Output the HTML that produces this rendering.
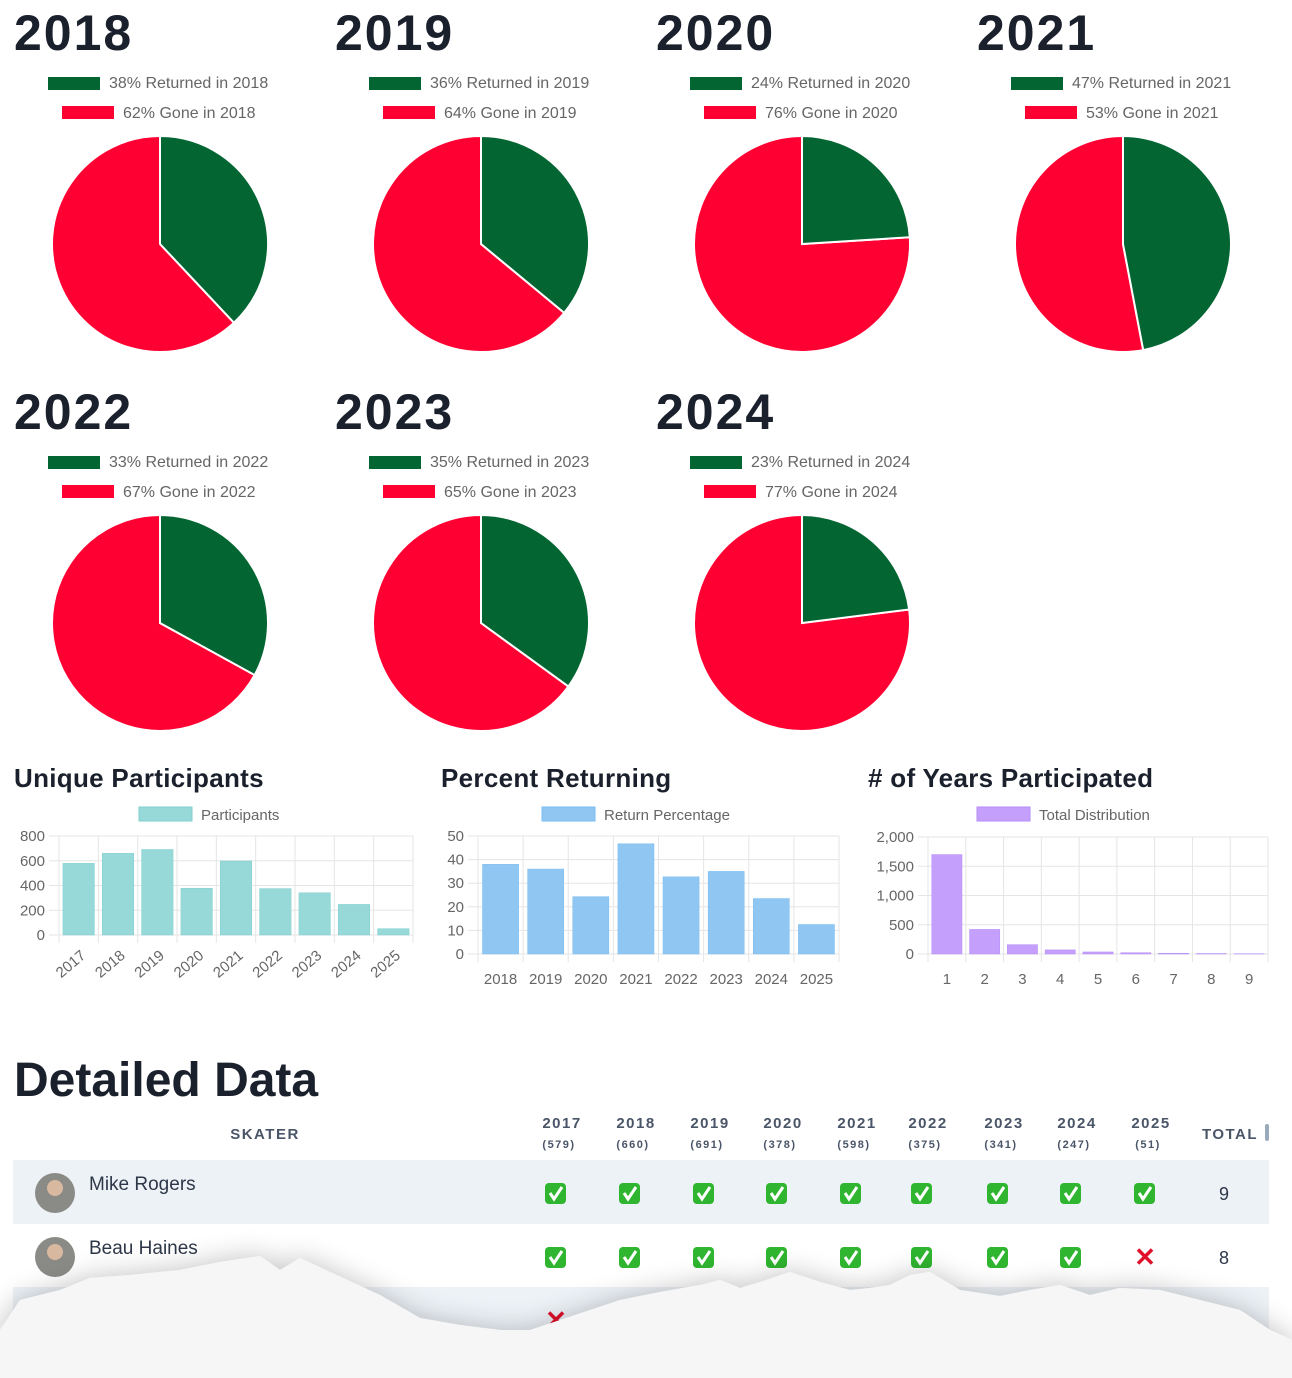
<!DOCTYPE html>
<html><head><meta charset="utf-8">
<style>
html,body{margin:0;padding:0;background:#fff;width:1292px;height:1378px;overflow:hidden;}
svg{display:block;font-family:"Liberation Sans",sans-serif;}
</style></head>
<body>
<svg id="root" width="1292" height="1378" viewBox="0 0 1292 1378" xmlns="http://www.w3.org/2000/svg">
<g id="pies"></g>
<g id="bars"></g>
<g id="table"></g>
<g id="paper"></g>
</svg>
<script>
const NS="http://www.w3.org/2000/svg";
const pieYears=["2018","2019","2020","2021","2022","2023","2024"];
const pieReturned=[38,36,24,47,33,35,23];
const participantYears=["2017","2018","2019","2020","2021","2022","2023","2024","2025"];
const participantValues=[579,660,691,378,598,375,341,247,51];
const participantTicks=[0,200,400,600,800];
const returnYears=["2018","2019","2020","2021","2022","2023","2024","2025"];
const returnValues=[38,36,24.3,46.7,32.7,35,23.5,12.5];
const returnTicks=[0,10,20,30,40,50];
const yearsCats=["1","2","3","4","5","6","7","8","9"];
const yearsValues=[1700,420,160,70,35,22,12,8,5];
const yearsTicks=[0,500,1000,1500,2000];
const yearsTickLabels=["0","500","1,000","1,500","2,000"];
const tableYears=["2017","2018","2019","2020","2021","2022","2023","2024","2025"];
const tableCounts=[579,660,691,378,598,375,341,247,51];

function el(tag,attrs,parent,text){const e=document.createElementNS(NS,tag);for(const k in attrs)e.setAttribute(k,attrs[k]);if(text!==undefined)e.textContent=text;parent.appendChild(e);return e;}

// pies
const pg=document.getElementById('pies');
pieYears.forEach((y,i)=>{
  const col=i%4,row=Math.floor(i/4);
  const ox=col*321, oy=row*379;
  const g=el('g',{},pg);
  
  
  const t=el('text',{x:14+ox,y:50+oy,'font-size':50,'font-weight':'bold',fill:'#1a202c','letter-spacing':'2'},g,y);
  
  
  const r=pieReturned[i];
  const l1=el('g',{},g);
  
  
  el('rect',{x:48+ox,y:77+oy,width:52,height:13,fill:'#036632'},l1);
  el('text',{x:109+ox,y:88+oy,'font-size':16,fill:'#666'},l1,r+'% Returned in '+y);
  const l2=el('g',{},g);
  
  
  el('rect',{x:62+ox,y:106+oy,width:52,height:13,fill:'#ff0033'},l2);
  el('text',{x:123+ox,y:118+oy,'font-size':16,fill:'#666'},l2,(100-r)+'% Gone in '+y);
  const cx=160+ox, cy=244+oy, R=108;
  const a=r/100*2*Math.PI;
  const ex=cx+R*Math.sin(a), ey=cy-R*Math.cos(a);
  const gone=el('path',{d:`M${cx},${cy} L${ex},${ey} A${R},${R} 0 ${(1-r/100)>0.5?1:0} 1 ${cx},${cy-R} Z`,fill:'#ff0033',stroke:'#fff','stroke-width':2},g);
  
  
  const ret=el('path',{d:`M${cx},${cy} L${cx},${cy-R} A${R},${R} 0 ${r/100>0.5?1:0} 1 ${ex},${ey} Z`,fill:'#036632',stroke:'#fff','stroke-width':2},g);
  
  
});

// bar charts
const bg=document.getElementById('bars');
function barChart(o){
  const g=el('g',{},bg);
  
  
  const t=el('text',{x:o.tx,y:787,'font-size':26,'font-weight':'bold',fill:'#1a202c','letter-spacing':'0.3'},g,o.title);
  
  
  const lg=el('g',{},g);
  
  
  el('rect',{x:o.lx,y:807,width:53,height:14,fill:o.color,stroke:o.stroke,'stroke-width':1},lg);
  el('text',{x:o.lx+62,y:820,'font-size':15,fill:'#666'},lg,o.label);
  const n=o.cats.length, w=(o.x1-o.x0)/n;
  const ys=v=>o.y0-(v/o.max)*(o.y0-o.y1);
  o.ticks.forEach((tv,k)=>{
    const y=ys(tv);
    el('line',{x1:o.x0-10,x2:o.x1,y1:y,y2:y,stroke:'#e5e5e5'},g);
    const tl=el('text',{x:o.x0-14,y:y+5,'font-size':15,fill:'#666','text-anchor':'end'},g,o.tickLabels?o.tickLabels[k]:String(tv));
    
    
  });
  for(let k=0;k<=n;k++){const x=o.x0+k*w;el('line',{x1:x,x2:x,y1:o.y1,y2:o.y0+8,stroke:'#e5e5e5'},g);}
  o.cats.forEach((c,k)=>{
    const v=o.vals[k], x=o.x0+k*w+w*0.1, y=ys(v);
    const b=el('rect',{x:x,y:y,width:w*0.8,height:o.y0-y,fill:o.color,stroke:o.stroke,'stroke-width':0.5},g);
    
    
    const cx=o.x0+k*w+w/2;
    let lbl;
    if(o.rot) lbl=el('text',{x:cx+8,y:o.y0+22,'font-size':15,fill:'#666','text-anchor':'end',transform:`rotate(-40 ${cx+8} ${o.y0+22})`},g,c);
    else lbl=el('text',{x:cx,y:o.y0+30,'font-size':15,fill:'#666','text-anchor':'middle'},g,c);
    
    
  });
}
barChart({name:'unique-participants-chart',title:'Unique Participants',tx:14,lx:139,label:'Participants',color:'#97d9d8',stroke:'#7fcfcf',cats:participantYears,vals:participantValues,ticks:participantTicks,max:800,x0:59,x1:413,y0:935,y1:836,rot:true});
barChart({name:'percent-returning-chart',title:'Percent Returning',tx:441,lx:542,label:'Return Percentage',color:'#8fc6f2',stroke:'#7bbcf0',cats:returnYears,vals:returnValues,ticks:returnTicks,max:50,x0:478,x1:839,y0:954,y1:836,rot:false});
barChart({name:'years-participated-chart',title:'# of Years Participated',tx:868,lx:977,label:'Total Distribution',color:'#c4a0fc',stroke:'#b48cf8',cats:yearsCats,vals:yearsValues,ticks:yearsTicks,tickLabels:yearsTickLabels,max:2000,x0:928,x1:1268,y0:954,y1:837,rot:false});

// table
const tg=document.getElementById('table');
const tt=el('text',{x:14,y:1096,'font-size':48,'font-weight':'bold',fill:'#1a202c'},tg,'Detailed Data');


const sk=el('text',{x:265,y:1139,'font-size':15,'font-weight':'bold',fill:'#4a5568','text-anchor':'middle','letter-spacing':'1.5'},tg,'SKATER');


const colX=[562,636,710,783,857,928,1004,1077,1151];
tableYears.forEach((y,k)=>{
  const h=el('g',{},tg);
  
  
  el('text',{x:colX[k],y:1128,'font-size':15,'font-weight':'bold',fill:'#4a5568','text-anchor':'middle','letter-spacing':'1.5'},h,y);
  el('text',{x:colX[k]-3,y:1148,'font-size':11,'font-weight':'bold',fill:'#4a5568','text-anchor':'middle','letter-spacing':'1.5'},h,'('+tableCounts[k]+')');
});
const tot=el('text',{x:1230,y:1139,'font-size':15,'font-weight':'bold',fill:'#4a5568','text-anchor':'middle','letter-spacing':'1.5'},tg,'TOTAL');


el('rect',{x:1265,y:1124,width:4,height:17,rx:2,fill:'#9ab'},tg);
const rows=[["Mike Rogers",[1,1,1,1,1,1,1,1,1],9,'#edf2f7',1160],["Beau Haines",[1,1,1,1,1,1,1,1,0],8,'#fff',1224],["",[0,1,1,1,1,1,1,1,1],8,'#edf2f7',1287]];
rows.forEach(r=>{
  const g=el('g',{},tg);
  
  
  el('rect',{x:13,y:r[4],width:1256,height:r[4]===1287?91:64,fill:r[3]},g);
  if(r[0]){
    el('circle',{cx:55,cy:r[4]+33,r:20,fill:'#8a8a86'},g);
    el('circle',{cx:55,cy:r[4]+28,r:8,fill:'#d8b9a0'},g);
    el('text',{x:89,y:r[4]+30,'font-size':19,fill:'#2d3748'},g,r[0]);
  }
  const cy=r[4]+33;
  r[1].forEach((v,k)=>{
    if(v){
      const c=el('g',{},g);
      
      
      el('rect',{x:colX[k]-17,y:cy-10,width:21,height:21,rx:4,fill:'#2fb52f'},c);
      el('path',{d:`M${colX[k]-12},${cy} l4,6 l8,-12`,stroke:'#fff','stroke-width':3,fill:'none'},c);
    } else {
      const c=el('text',{x:colX[k]-6,y:cy+9,'font-size':26,'font-weight':'bold',fill:'#e0102a','text-anchor':'middle'},g,'✕');
      
      
    }
  });
  el('text',{x:1224,y:cy+7,'font-size':18,fill:'#2d3748','text-anchor':'middle'},g,String(r[2]));
});

// torn paper
const pp=document.getElementById('paper');
const defs=el('defs',{},pp);
const f=el('filter',{id:'sh',x:'-10%',y:'-30%',width:'120%',height:'160%'},defs);
el('feGaussianBlur',{'in':'SourceAlpha',stdDeviation:14,result:'b'},f);
const ct=el('feComponentTransfer',{'in':'b',result:'s'},f);
el('feFuncA',{type:'linear',slope:0.25},ct);
const m=el('feMerge',{},f);el('feMergeNode',{'in':'s'},m);el('feMergeNode',{'in':'SourceGraphic'},m);
const pts="0,1330 20,1300 60,1290 90,1278 130,1275 180,1270 220,1262 260,1256 280,1270 300,1258 330,1272 380,1295 420,1318 460,1325 500,1330 530,1330 560,1320 590,1310 620,1300 660,1292 700,1285 720,1280 740,1288 760,1282 790,1272 820,1282 850,1290 870,1288 890,1285 910,1275 930,1272 960,1290 1000,1296 1030,1290 1060,1285 1090,1295 1120,1288 1160,1290 1200,1300 1240,1310 1270,1330 1292,1340 1292,1378 0,1378";
el('polygon',{points:pts,fill:'#f6f6f6',filter:'url(#sh)'},pp);
</script>
</body></html>
